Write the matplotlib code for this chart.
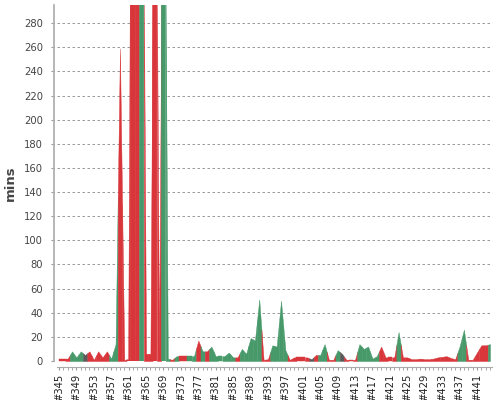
import numpy as np
import matplotlib
matplotlib.use("Agg")
import matplotlib.pyplot as plt

# build numbers #345 .. #444
builds = list(range(345, 445))

# build duration in minutes
minutes = [
    2, 2, 2, 8, 3, 8, 5, 8, 1, 8,            # 345-354
    3, 8, 2, 14, 259, 1, 1, 800, 800, 600,   # 355-364
    6, 6, 600, 6, 600, 2, 1, 4, 4, 4,        # 365-374
    4, 4, 17, 8, 8, 12, 4, 4, 4, 7,          # 375-384
    3, 3, 10, 6, 19, 17, 51, 1, 1.5, 13,     # 385-394
    12, 50, 9, 1, 3, 3, 3, 3, 1.5, 5,        # 395-404
    5, 14, 1, 1, 9, 6, 1, 1, 1, 14,          # 405-414
    10, 12, 2, 4, 12, 3, 3, 3, 24, 3,        # 415-424
    3, 1.5, 1.5, 2, 1.5, 1.5, 2, 3, 3.5, 4,  # 425-434
    2.5, 1.5, 12, 26, 1, 1, 7, 13, 13, 14,   # 435-444
]

# build result: F failed, S success, A aborted
results = [
    "F", "F", "F", "S", "S", "S", "A", "F", "F", "F",
    "F", "F", "S", "S", "F", "F", "F", "F", "F", "S",
    "F", "F", "F", "F", "S", "S", "F", "S", "F", "F",
    "S", "S", "F", "S", "F", "S", "S", "S", "S", "S",
    "S", "F", "S", "S", "S", "S", "S", "F", "F", "S",
    "S", "S", "S", "F", "F", "F", "F", "F", "A", "F",
    "S", "S", "F", "F", "S", "A", "F", "F", "F", "S",
    "S", "S", "S", "S", "F", "F", "F", "F", "S", "F",
    "F", "F", "F", "F", "F", "F", "F", "F", "F", "F",
    "F", "F", "S", "S", "F", "F", "F", "F", "F", "S",
]

colors = {"F": "#d8363a", "S": "#47996a", "A": "#5a5a5a"}
labels = ["#%d" % b for b in builds]

fig = plt.figure(figsize=(5, 4), dpi=100)
ax = fig.add_axes([0.1136, 0.0975, 0.8708, 0.89])

n = len(minutes)
y = np.array(minutes, dtype=float)
for i in range(n):
    xs = [i]
    ys = [y[i]]
    if i > 0:
        xs.insert(0, i - 0.5)
        ys.insert(0, (y[i - 1] + y[i]) / 2)
    if i < n - 1:
        xs.append(i + 0.5)
        ys.append((y[i] + y[i + 1]) / 2)
    c = colors[results[i]]
    ax.fill_between(xs, ys, 0, facecolor=c, edgecolor=c, lw=0.3, zorder=3)

ax.set_xlim(-0.5, n - 0.5)
ax.set_ylim(0, 295)

ax.set_yticks(range(0, 281, 20))
ax.set_xticks(range(n), minor=True)
ax.set_xticks(range(0, n, 4), labels[::4])
ax.tick_params(axis="y", labelsize=7.2, labelcolor="#444", length=2,
               color="#999", pad=6)
ax.tick_params(axis="x", which="both", length=2, color="#999", pad=3)
ax.tick_params(axis="x", labelsize=7.2, labelcolor="#222", labelrotation=90)

ax.grid(axis="y", color="#888", linestyle=(0, (3, 3)), linewidth=0.6, zorder=1)

for s in ["top", "right"]:
    ax.spines[s].set_visible(False)
ax.spines["left"].set_position(("outward", 2))
ax.spines["bottom"].set_position(("outward", 4))
ax.spines["left"].set_color("#aaa")
ax.spines["bottom"].set_color("#aaa")
ax.spines["left"].set_linewidth(1.2)

ax.set_ylabel("mins", fontsize=9.5, fontweight="bold", color="#444", labelpad=5)

fig.savefig("out.png", dpi=100)
